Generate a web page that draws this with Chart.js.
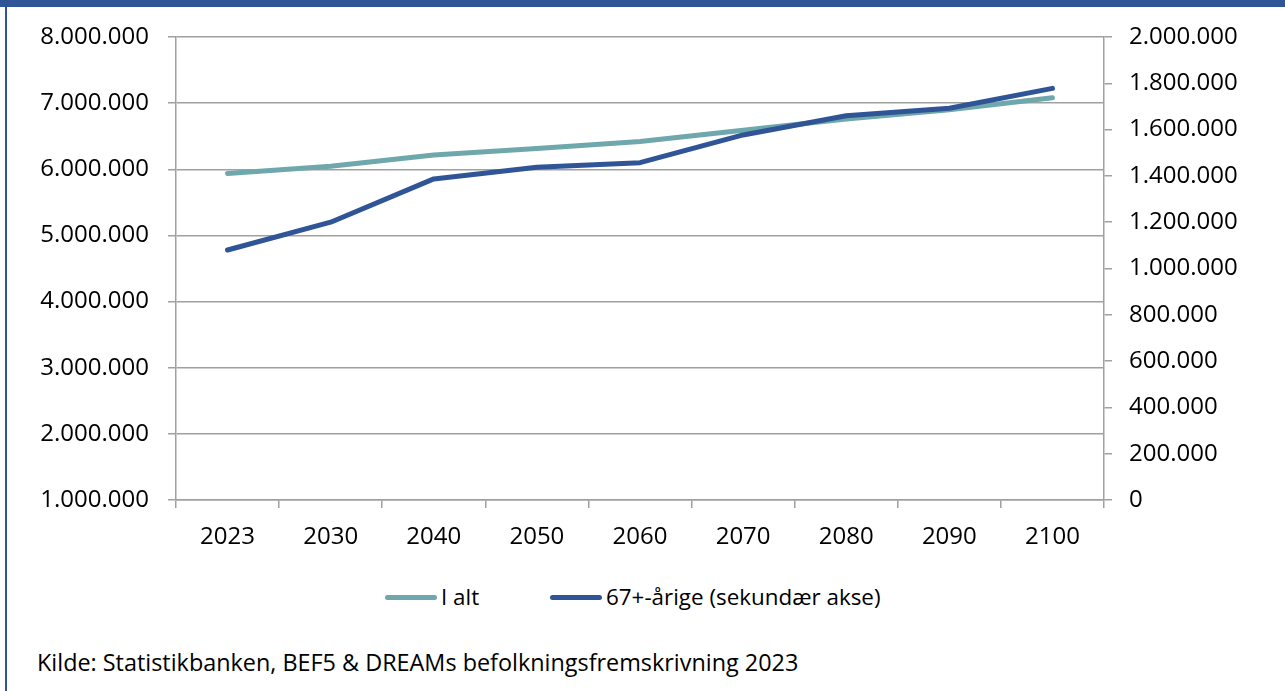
<!DOCTYPE html>
<html>
<head>
<meta charset="utf-8">
<script src="https://cdn.jsdelivr.net/npm/chart.js@4"></script>
<style>
  html, body { margin: 0; padding: 0; background: #fff; }
  body { width: 1285px; height: 691px; position: relative; overflow: hidden; font-family: "Open Sans", sans-serif; }
  #topbar { position: absolute; left: 0; top: 0; width: 1285px; height: 7px; background: #2F5597; }
  #leftbar { position: absolute; left: 5px; top: 0; width: 2px; height: 691px; background: #2F5597; }
  #wrap { position: absolute; left: 0; top: 0; width: 1285px; height: 576px; }
  #legend { position: absolute; left: 0; top: 580px; width: 1285px; height: 34px; font-size: 22.4px; color: #000; }
  .item { position: absolute; top: 0; height: 34px; line-height: 34px; white-space: nowrap; }
  .swatch { position: absolute; top: 15px; width: 52px; height: 5px; border-radius: 3px; }
  .txt { position: absolute; top: 0; }
  #source { position: absolute; left: 37px; top: 646px; font-size: 23.4px; color: #000; white-space: nowrap; }
</style>
</head>
<body>
<div id="topbar"></div>
<div id="leftbar"></div>
<div id="wrap"><canvas id="myChart" width="1285" height="576"></canvas></div>
<div id="legend"></div>
<div id="source">Kilde: Statistikbanken, BEF5 &amp; DREAMs befolkningsfremskrivning 2023</div>
<script>
// years on the x axis
const years = ["2023", "2030", "2040", "2050", "2060", "2070", "2080", "2090", "2100"];

// total population (left axis)
const iAlt = [5935000, 6045000, 6215000, 6315000, 6420000, 6590000, 6760000, 6900000, 7080000];

// 67+ year olds (right axis)
const aarige67 = [1080000, 1200000, 1387000, 1437000, 1457000, 1577000, 1660000, 1692000, 1778000];

const seriesNames = ["I alt", "67+-årige (sekundær akse)"];

const tealColor = "#6FA8AC";
const blueColor = "#2F5597";
const gridColor = "#A0A0A0";

// danish thousands separator
function fmt(v) {
    return String(v).replace(/\B(?=(\d{3})+(?!\d))/g, ".");
}

Chart.defaults.font.family = "Open Sans";
Chart.defaults.font.size = 24;
Chart.defaults.color = "#000";

const ctx = document.getElementById('myChart');

myChart = new Chart(ctx, {
    type: 'line',
    data: {
        labels: years,
        datasets: [{
            label: seriesNames[0],
            data: iAlt,
            yAxisID: 'y',
            borderColor: tealColor,
            backgroundColor: tealColor,
            borderWidth: 5,
            pointRadius: 0,
            tension: 0,
            borderCapStyle: 'round',
            borderJoinStyle: 'round',
            order: 1
        }, {
            label: seriesNames[1],
            data: aarige67,
            yAxisID: 'y2',
            borderColor: blueColor,
            backgroundColor: blueColor,
            borderWidth: 5,
            pointRadius: 0,
            tension: 0,
            borderCapStyle: 'round',
            borderJoinStyle: 'round',
            order: 0
        }]
    },
    options: {
        responsive: false,
        animation: false,
        layout: { padding: { top: 37, bottom: 0, left: 0, right: 0 } },
        plugins: {
            tooltip: { enabled: false },
            legend: { display: false }
        },
        scales: {
            x: {
                offset: true,
                grid: {
                    offset: true,
                    drawOnChartArea: false,
                    drawTicks: true,
                    tickLength: 8,
                    color: gridColor,
                    lineWidth: 1.5
                },
                border: { color: gridColor, width: 1.5 },
                ticks: { padding: 15, maxRotation: 0 },
                afterFit: function(scale) { scale.height = 76; }
            },
            y: {
                position: 'left',
                min: 1000000,
                max: 8000000,
                ticks: {
                    stepSize: 1000000,
                    padding: 19,
                    callback: function(v) { return fmt(v); }
                },
                grid: { color: gridColor, lineWidth: 1.5, tickLength: 8 },
                border: { color: gridColor, width: 1.5 },
                afterFit: function(scale) { scale.width = 176; }
            },
            y2: {
                position: 'right',
                min: 0,
                max: 2000000,
                ticks: {
                    stepSize: 200000,
                    padding: 17,
                    callback: function(v) { return fmt(v); }
                },
                grid: { drawOnChartArea: false, color: gridColor, lineWidth: 1.5, tickLength: 8 },
                border: { color: gridColor, width: 1.5 },
                afterFit: function(scale) { scale.width = 1285 - 1104; }
            }
        }
    }
});

// legend below the chart, built from the dataset names and colours
const legend = document.getElementById('legend');
const legendLeft = [385, 550];
myChart.data.datasets.forEach(function(ds, i) {
    let item = document.createElement('div');
    item.className = 'item';
    item.style.left = legendLeft[i] + 'px';
    let sw = document.createElement('div');
    sw.className = 'swatch';
    sw.style.background = ds.borderColor;
    sw.style.left = '0px';
    let tx = document.createElement('div');
    tx.className = 'txt';
    tx.style.left = '56px';
    tx.textContent = ds.label;
    item.appendChild(sw);
    item.appendChild(tx);
    legend.appendChild(item);
});
</script>
</body>
</html>
